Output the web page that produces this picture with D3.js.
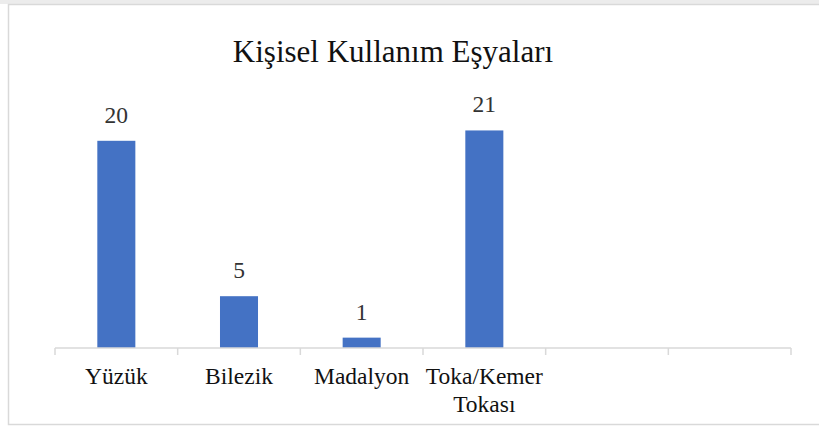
<!DOCTYPE html>
<html>
<head>
<meta charset="utf-8">
<script src="https://cdn.jsdelivr.net/npm/d3@7"></script>
<style>
  html, body { margin: 0; padding: 0; background: #fff; }
  text { font-family: "Liberation Serif", "Times New Roman", serif; }
</style>
</head>
<body>
<svg id="mainsvg" width="819" height="428"></svg>
<script>
const title = 'Kişisel Kullanım Eşyaları';
const categories = ['Yüzük', 'Bilezik', 'Madalyon', 'Toka/Kemer Tokası', '', ' '];
const catLines = [['Yüzük'], ['Bilezik'], ['Madalyon'], ['Toka/Kemer', 'Tokası'], [], []];
const values = [20, 5, 1, 21, null, null];

const svg = d3.select('#mainsvg');
const width = +svg.attr('width');
const height = +svg.attr('height');
const margin = { top: 89, right: 28, bottom: 80, left: 55 };
const innerWidth = width - margin.left - margin.right;
const innerHeight = height - margin.top - margin.bottom;

// faint strip along the top edge
svg.append('rect')
  .attr('x', 0).attr('y', 0).attr('width', width).attr('height', 4)
  .attr('fill', '#ececec');

// chart frame (right side runs past the picture)
svg.append('path')
  .attr('d', `M${width},4.5 H8.5 V424.5 H${width}`)
  .attr('fill', 'none')
  .attr('stroke', '#d9d9d9')
  .attr('stroke-width', 1.5);

svg.append('text')
  .text(title)
  .attr('x', 393).attr('y', 62)
  .attr('text-anchor', 'middle')
  .attr('font-size', 31)
  .attr('fill', '#111');

const xScale = d3.scaleBand()
  .domain(categories)
  .range([0, innerWidth])
  .paddingInner(0.69)
  .paddingOuter(0.345);

const yScale = d3.scaleLinear()
  .domain([0, 25])
  .range([innerHeight, 0]);

const g = svg.append('g')
  .attr('id', 'maingroup')
  .attr('transform', `translate(${margin.left}, ${margin.top})`);

const barData = values.map((v, i) => ({ v, c: categories[i] })).filter(d => d.v != null);

g.selectAll('rect.bar')
  .data(barData)
  .enter()
  .append('rect')
  .attr('class', 'bar')
  .attr('x', d => xScale(d.c))
  .attr('y', d => yScale(d.v))
  .attr('width', xScale.bandwidth())
  .attr('height', d => innerHeight - yScale(d.v))
  .attr('fill', '#4472c4');

g.selectAll('text.val')
  .data(barData)
  .enter()
  .append('text')
  .attr('class', 'val')
  .text(d => d.v)
  .attr('x', d => xScale(d.c) + xScale.bandwidth() / 2)
  .attr('y', d => yScale(d.v) - 18)
  .attr('text-anchor', 'middle')
  .attr('font-size', 23.5)
  .attr('fill', '#333');

// category axis with ticks at category boundaries
const step = innerWidth / categories.length;
const axis = g.append('g').attr('transform', `translate(0, ${innerHeight})`);
axis.append('line')
  .attr('x1', 0).attr('x2', innerWidth)
  .attr('y1', 0).attr('y2', 0)
  .attr('stroke', '#d9d9d9').attr('stroke-width', 1.5);
axis.selectAll('line.tick')
  .data(d3.range(categories.length + 1))
  .enter()
  .append('line')
  .attr('class', 'tick')
  .attr('x1', i => i * step).attr('x2', i => i * step)
  .attr('y1', 0).attr('y2', 7)
  .attr('stroke', '#d9d9d9').attr('stroke-width', 1.5);

const labels = axis.selectAll('text.cat')
  .data(categories.map((c, i) => ({ c, lines: catLines[i] })).filter(d => d.lines.length))
  .enter()
  .append('text')
  .attr('class', 'cat')
  .attr('x', d => xScale(d.c) + xScale.bandwidth() / 2)
  .attr('y', 36)
  .attr('text-anchor', 'middle')
  .attr('font-size', 23.5)
  .attr('fill', '#111');
labels.selectAll('tspan')
  .data(d => d.lines.map((t, k) => ({ t, k, x: xScale(d.c) + xScale.bandwidth() / 2 })))
  .enter()
  .append('tspan')
  .attr('x', d => d.x)
  .attr('dy', d => d.k === 0 ? 0 : 28)
  .text(d => d.t);
</script>
</body>
</html>
